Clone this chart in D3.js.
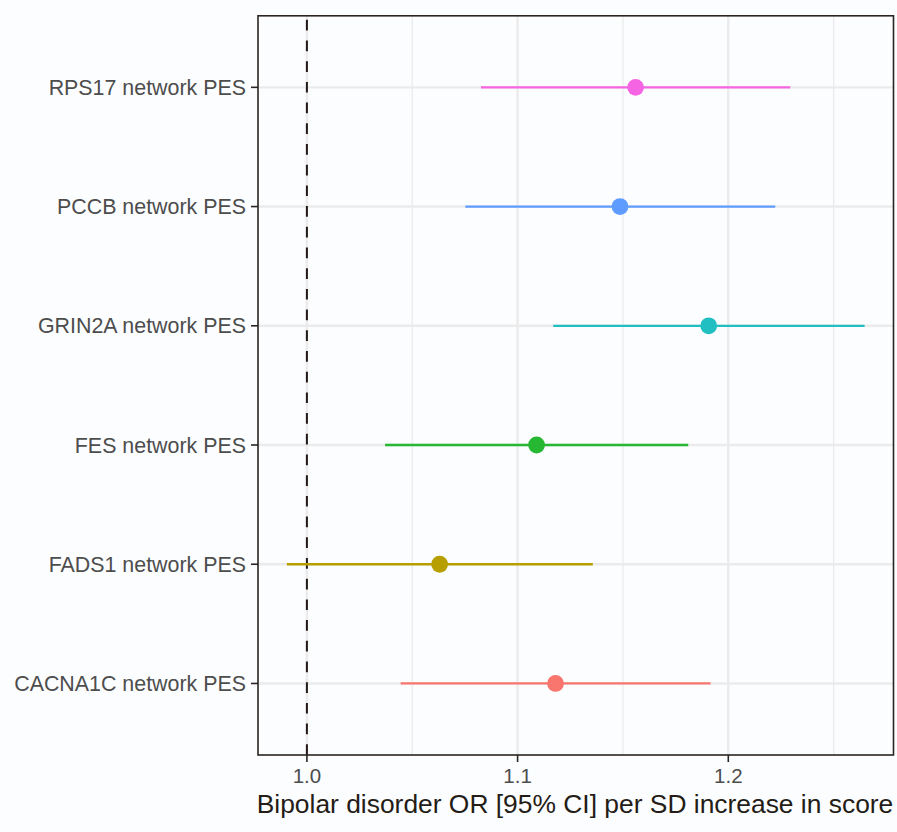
<!DOCTYPE html>
<html>
<head>
<meta charset="utf-8">
<script src="https://cdn.jsdelivr.net/npm/d3@7"></script>
<style>
  html, body { margin: 0; padding: 0; background: #fcfdff; }
  svg { display: block; }
</style>
</head>
<body>
<script>
// ---- data (top to bottom) ----
const categories = ["RPS17 network PES", "PCCB network PES", "GRIN2A network PES",
                    "FES network PES", "FADS1 network PES", "CACNA1C network PES"];
const estimates = [1.156, 1.1486, 1.1907, 1.109, 1.063, 1.118];
const lowerCI   = [1.0826, 1.0752, 1.1169, 1.0371, 0.9905, 1.0445];
const upperCI   = [1.2294, 1.2223, 1.2647, 1.181, 1.1357, 1.1916];
const colors    = ["#F564E3", "#5E9CFF", "#22BFC2", "#26B833", "#B79F00", "#F8766D"];
const xMajorTicks = [1.0, 1.1, 1.2];
const xMinorTicks = [1.05, 1.15, 1.25];
const xTickLabels = ["1.0", "1.1", "1.2"];
const refValue = 1.0;
const xTitle = "Bipolar disorder OR [95% CI] per SD increase in score";

const W = 897, H = 832;
const panel = { left: 258, right: 893.5, top: 15.8, bottom: 755 };

const svg = d3.select("body").append("svg").attr("width", W).attr("height", H);
svg.append("rect").attr("width", W).attr("height", H).attr("fill", "#fcfdff");

const lo = d3.min(lowerCI), hi = d3.max(upperCI);
const pad = (hi - lo) * 0.05;
const x = d3.scaleLinear().domain([lo - pad, hi + pad]).range([panel.left, panel.right]);
const y = d3.scalePoint().domain(categories).range([panel.top, panel.bottom]).padding(0.6);

const g = svg.append("g");

// minor grid
g.selectAll("line.minor").data(xMinorTicks).join("line")
  .attr("x1", d => x(d)).attr("x2", d => x(d))
  .attr("y1", panel.top).attr("y2", panel.bottom)
  .attr("stroke", "#ebebeb").attr("stroke-width", 1.3);
// major grid
g.selectAll("line.majx").data(xMajorTicks).join("line")
  .attr("x1", d => x(d)).attr("x2", d => x(d))
  .attr("y1", panel.top).attr("y2", panel.bottom)
  .attr("stroke", "#ebebeb").attr("stroke-width", 2.4);
g.selectAll("line.majy").data(categories).join("line")
  .attr("x1", panel.left).attr("x2", panel.right)
  .attr("y1", d => y(d)).attr("y2", d => y(d))
  .attr("stroke", "#ebebeb").attr("stroke-width", 2.4);

// reference dashed line (drawn bottom to top)
g.append("line")
  .attr("x1", x(refValue)).attr("x2", x(refValue))
  .attr("y1", panel.bottom).attr("y2", panel.top)
  .attr("stroke", "#231a17").attr("stroke-width", 2)
  .attr("stroke-dasharray", "10.7 10");

// error bars
const rows = categories.map((c, i) => ({ c, est: estimates[i], lo: lowerCI[i], hi: upperCI[i], col: colors[i] }));
g.selectAll("line.ci").data(rows).join("line")
  .attr("x1", d => x(d.lo)).attr("x2", d => x(d.hi))
  .attr("y1", d => y(d.c)).attr("y2", d => y(d.c))
  .attr("stroke", d => d.col).attr("stroke-width", 2.3);
g.selectAll("circle").data(rows).join("circle")
  .attr("cx", d => x(d.est)).attr("cy", d => y(d.c)).attr("r", 8.4)
  .attr("fill", d => d.col);

// panel border
svg.append("rect")
  .attr("x", panel.left).attr("y", panel.top)
  .attr("width", panel.right - panel.left).attr("height", panel.bottom - panel.top)
  .attr("fill", "none").attr("stroke", "#2a2520").attr("stroke-width", 1.6);

// y axis ticks & labels
const font = "'Liberation Sans', Arial, Helvetica, sans-serif";
svg.selectAll("line.yt").data(categories).join("line")
  .attr("x1", panel.left - 7).attr("x2", panel.left)
  .attr("y1", d => y(d)).attr("y2", d => y(d))
  .attr("stroke", "#2a2520").attr("stroke-width", 1.6);
svg.selectAll("text.yl").data(categories).join("text")
  .attr("x", panel.left - 12).attr("y", d => y(d) + 7.6)
  .attr("text-anchor", "end")
  .attr("font-family", font).attr("font-size", 21.4)
  .attr("fill", "#4d4d4d")
  .text(d => d);

// x axis ticks & labels
svg.selectAll("line.xt").data(xMajorTicks).join("line")
  .attr("x1", d => x(d)).attr("x2", d => x(d))
  .attr("y1", panel.bottom).attr("y2", panel.bottom + 7)
  .attr("stroke", "#2a2520").attr("stroke-width", 1.6);
svg.selectAll("text.xl").data(xMajorTicks).join("text")
  .attr("x", d => x(d)).attr("y", 782.7)
  .attr("text-anchor", "middle")
  .attr("font-family", font).attr("font-size", 20.5)
  .attr("fill", "#4d4d4d")
  .text((d, i) => xTickLabels[i]);

// x axis title
svg.append("text")
  .attr("x", 575).attr("y", 812.7)
  .attr("text-anchor", "middle")
  .attr("font-family", font).attr("font-size", 26.4)
  .attr("fill", "#241c16")
  .text(xTitle);
</script>
</body>
</html>
